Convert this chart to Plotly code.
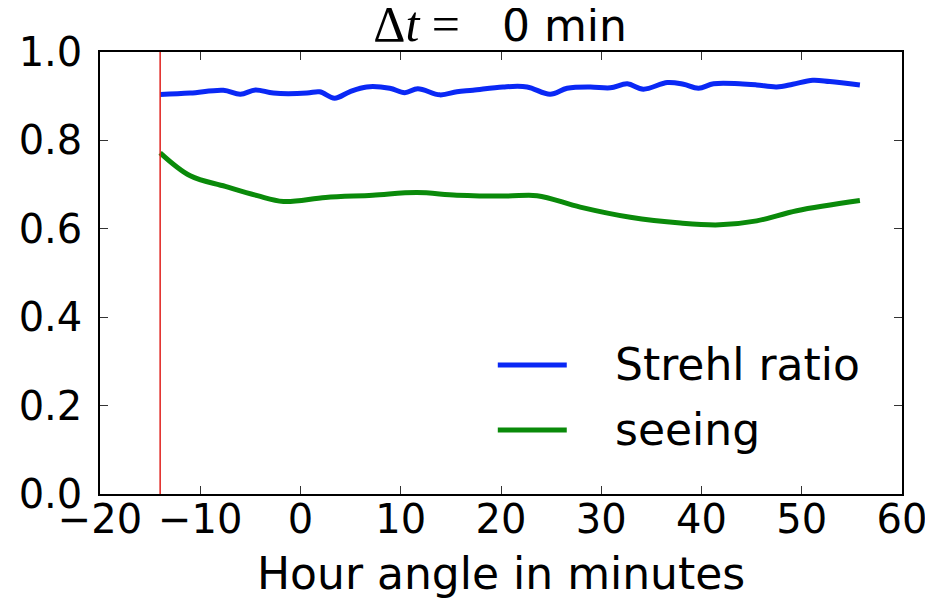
import plotly.graph_objects as go

# Hour angle (minutes) and values
strehl_x = [-14, -11.0, -7.7, -6.0, -4.5, -2.7, 0.65, 1.9, 3.4, 4.9, 6.6, 8.9, 10.4, 11.7,
            13.9, 15.6, 17.2, 20.2, 22.6, 24.9, 26.6, 28.9, 30.9, 32.6, 34.2, 36.6, 38.2,
            39.7, 41.2, 43.8, 45.5, 47.5, 49.1, 51.1, 52.8, 55.8]
strehl = [0.904, 0.907, 0.9135, 0.9045, 0.914, 0.907, 0.907, 0.910, 0.8955, 0.910, 0.921,
          0.918, 0.908, 0.917, 0.903, 0.910, 0.9135, 0.921, 0.921, 0.9045, 0.918, 0.921,
          0.919, 0.928, 0.916, 0.931, 0.927, 0.918, 0.928, 0.928, 0.9255, 0.921, 0.927,
          0.936, 0.933, 0.9255]

seeing_x = [-14, -11.0, -7.5, -4.3, -1.7, 2.5, 7.2, 11.6, 15.6, 20.6, 23.6, 27.9, 32.9,
            37.9, 41.8, 45.5, 49.5, 55.8]
seeing = [0.772, 0.720, 0.696, 0.675, 0.662, 0.671, 0.676, 0.682, 0.676, 0.674, 0.675,
          0.649, 0.626, 0.613, 0.609, 0.618, 0.641, 0.664]

marker_x = -14
x_ticks = [-20, -10, 0, 10, 20, 30, 40, 50, 60]
y_ticks = [0.0, 0.2, 0.4, 0.6, 0.8, 1.0]

BLUE = "#0a28f5"
GREEN = "#0a8a0a"
RED = "#e0201c"
FONT = "DejaVu Sans"
FS_TICK = 40
FS_TEXT = 44

fig = go.Figure()
fig.add_trace(go.Scatter(x=strehl_x, y=strehl, mode="lines", name="Strehl ratio",
                         line=dict(color=BLUE, width=5, shape="spline", smoothing=1.0),
                         showlegend=False))
fig.add_trace(go.Scatter(x=seeing_x, y=seeing, mode="lines", name="seeing",
                         line=dict(color=GREEN, width=5, shape="spline", smoothing=1.0),
                         showlegend=False))

# vertical red marker line
fig.add_shape(type="line", xref="x", yref="paper", x0=marker_x, x1=marker_x, y0=0, y1=1,
              line=dict(color=RED, width=1.5))

# manual legend (matplotlib style)
legend_items = [("Strehl ratio", BLUE, 0.292), ("seeing", GREEN, 0.145)]
for label, color, yp in legend_items:
    fig.add_shape(type="line", xref="paper", yref="paper", x0=0.496, x1=0.582, y0=yp, y1=yp,
                  line=dict(color=color, width=5))
    fig.add_annotation(xref="paper", yref="paper", x=0.640, y=yp, text=label,
                       showarrow=False, xanchor="left", yanchor="middle",
                       font=dict(family=FONT, size=FS_TEXT, color="black"))

# x axis title
fig.add_annotation(xref="paper", yref="paper", x=0.5, y=0, yshift=-79, text="Hour angle in minutes",
                   showarrow=False, xanchor="center", yanchor="middle",
                   font=dict(family=FONT, size=FS_TEXT, color="black"))

axis_common = dict(showline=True, linecolor="black", linewidth=1.5, mirror="allticks",
                   ticks="inside", ticklen=8, tickwidth=1, tickcolor="#333333",
                   showgrid=False, zeroline=False,
                   tickfont=dict(family=FONT, size=FS_TICK, color="black"))

fig.update_xaxes(range=[-20, 60], tickvals=x_ticks,
                 ticktext=[str(v).replace("-", "\u2212") for v in x_ticks],
                 ticklabelstandoff=-11, **axis_common)
fig.update_yaxes(range=[0, 1.0], tickvals=y_ticks, ticktext=[f"{v:.1f}" for v in y_ticks],
                 ticklabelstandoff=8, **axis_common)

fig.update_layout(
    width=925, height=590,
    margin=dict(l=92, r=31, t=44, b=104, autoexpand=False),
    plot_bgcolor="white", paper_bgcolor="white",
    title=dict(text='<span style="font-family:Liberation Serif;font-size:50px">\u0394<i>t</i> =</span>'
                    '\u00a0\u00a0\u00a00 min',
               x=0.532, xanchor="center", y=0.971, yanchor="middle", yref="container",
               font=dict(family=FONT, size=FS_TEXT, color="black")),
)

fig.write_html("out.html")
